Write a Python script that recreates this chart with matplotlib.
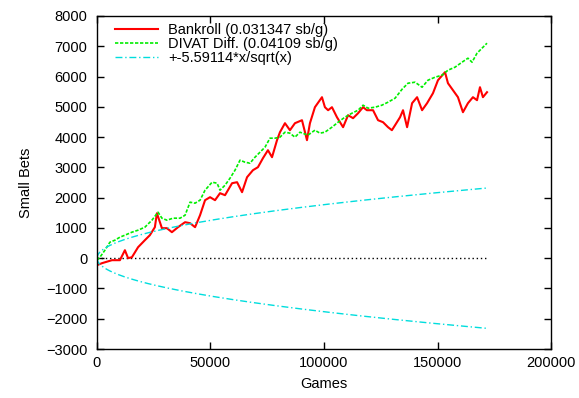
import numpy as np
import matplotlib
matplotlib.use("Agg")
import matplotlib.pyplot as plt

plt.rcParams['font.family'] = ['Liberation Sans', 'DejaVu Sans']

# --- Data ---
bank_games = [0, 2200, 6600, 10100, 12300, 13700, 15400, 18100, 21100, 23300,
              25500, 26400, 28600, 30800, 33000, 35700, 38800, 41000, 43200, 45400,
              47600, 49800, 52000, 54200, 56400, 59500, 61700, 63900, 66100, 68700,
              70900, 73100, 75300, 77100, 79300, 80600, 82800, 85000, 87200, 90300,
              92500, 93800, 96000, 99100, 100400, 101800, 103500, 105700, 108400, 110600,
              112800, 115000, 117200, 118900, 121600, 123800, 126000, 128200, 129900, 131300,
              133500, 134800, 136600, 138800, 141000, 143200, 145400, 148000, 150200, 153300,
              154600, 156800, 159000, 161200, 163400, 165600, 167400, 168700, 170000, 171800]
bankroll = [-231, -165, -66, -66, 264, 0, 33, 363, 595, 760,
            1024, 1486, 991, 991, 859, 1024, 1189, 1156, 1024, 1420,
            1916, 2015, 1916, 2147, 2081, 2477, 2510, 2180, 2675, 2907,
            3006, 3303, 3567, 3336, 3898, 4162, 4459, 4228, 4459, 4558,
            3898, 4459, 4988, 5318, 4988, 4888, 4988, 4657, 4327, 4723,
            4624, 4789, 4988, 4888, 4888, 4558, 4492, 4327, 4228, 4393,
            4657, 4888, 4327, 5120, 5318, 4888, 5120, 5450, 5879, 6144,
            5780, 5549, 5318, 4822, 5120, 5318, 5219, 5648, 5318, 5483]

divat_games = [0, 1300, 3500, 5700, 7900, 10100, 12300, 15400, 18100, 21100,
               24200, 26900, 28600, 30800, 33500, 36600, 38800, 41000, 43200, 45400,
               47600, 50700, 52900, 54200, 56400, 58600, 60800, 63000, 65200, 67400,
               69600, 71800, 74000, 76200, 78400, 80600, 82800, 85000, 87200, 89400,
               92900, 96000, 98200, 100400, 103500, 106200, 109200, 112300, 115000, 117200,
               119400, 122500, 125500, 128200, 131300, 134400, 137000, 140100, 143200, 145800,
               148900, 152000, 154600, 157700, 160800, 163400, 165200, 167400, 169600, 171800]
divat = [-66, 33, 264, 528, 595, 694, 760, 859, 925, 1024,
         1255, 1519, 1321, 1255, 1321, 1321, 1420, 1850, 1817, 1916,
         2246, 2510, 2477, 2246, 2411, 2642, 2907, 3237, 3171, 3138,
         3336, 3501, 3666, 3964, 3964, 3997, 4162, 4129, 3997, 4162,
         4063, 4228, 4129, 4162, 4327, 4492, 4657, 4789, 4888, 5054,
         4955, 4988, 5054, 5153, 5285, 5582, 5780, 5813, 5648, 5879,
         5978, 6045, 6210, 6309, 6474, 6606, 6474, 6771, 6937, 7102]

sd_coef = 5.59114
n_games = 171800

# --- Plot ---
fs = 10.5
fig = plt.figure(figsize=(5.79, 3.98), dpi=100)
ax = fig.add_axes([0.1675, 0.1231, 0.7842, 0.8367])

g = np.linspace(1, n_games, 400)
ax.plot([0, n_games], [0, 0], color='black', linestyle=(0, (1, 2)), linewidth=1)
ax.plot(bank_games, bankroll, color='#ff0000', linewidth=1.5,
        label='Bankroll (0.031347 sb/g)')
ax.plot(divat_games, divat, color='#00ee00', linewidth=1.2, linestyle=(0, (2, 1)),
        label='DIVAT Diff. (0.04109 sb/g)')
ax.plot(g, sd_coef * g / np.sqrt(g), color='#00dddd', linewidth=1,
        linestyle=(0, (5, 2, 1, 2)), label='+-5.59114*x/sqrt(x)')
ax.plot(g, -sd_coef * g / np.sqrt(g), color='#00dddd', linewidth=1,
        linestyle=(0, (5, 2, 1, 2)))

ax.set_xlim(0, 200000)
ax.set_ylim(-3000, 8000)
ax.set_xticks(range(0, 200001, 50000))
ax.set_yticks(range(-3000, 8001, 1000))
ax.tick_params(direction='in', top=True, right=True, length=5, width=1,
               labelsize=fs)
ax.tick_params(axis='y', pad=7)
ax.tick_params(axis='x', pad=5)
for s in ax.spines.values():
    s.set_linewidth(1)

ax.set_xlabel('Games', fontsize=fs, labelpad=5)
ax.set_ylabel('Small Bets', fontsize=fs, labelpad=9)

ax.legend(loc='upper left', frameon=False, fontsize=fs, handlelength=2.95,
          handletextpad=0.7, labelspacing=0.0, borderaxespad=0.0,
          bbox_to_anchor=(0.027, 0.995))

fig.savefig('out.png', dpi=100)
